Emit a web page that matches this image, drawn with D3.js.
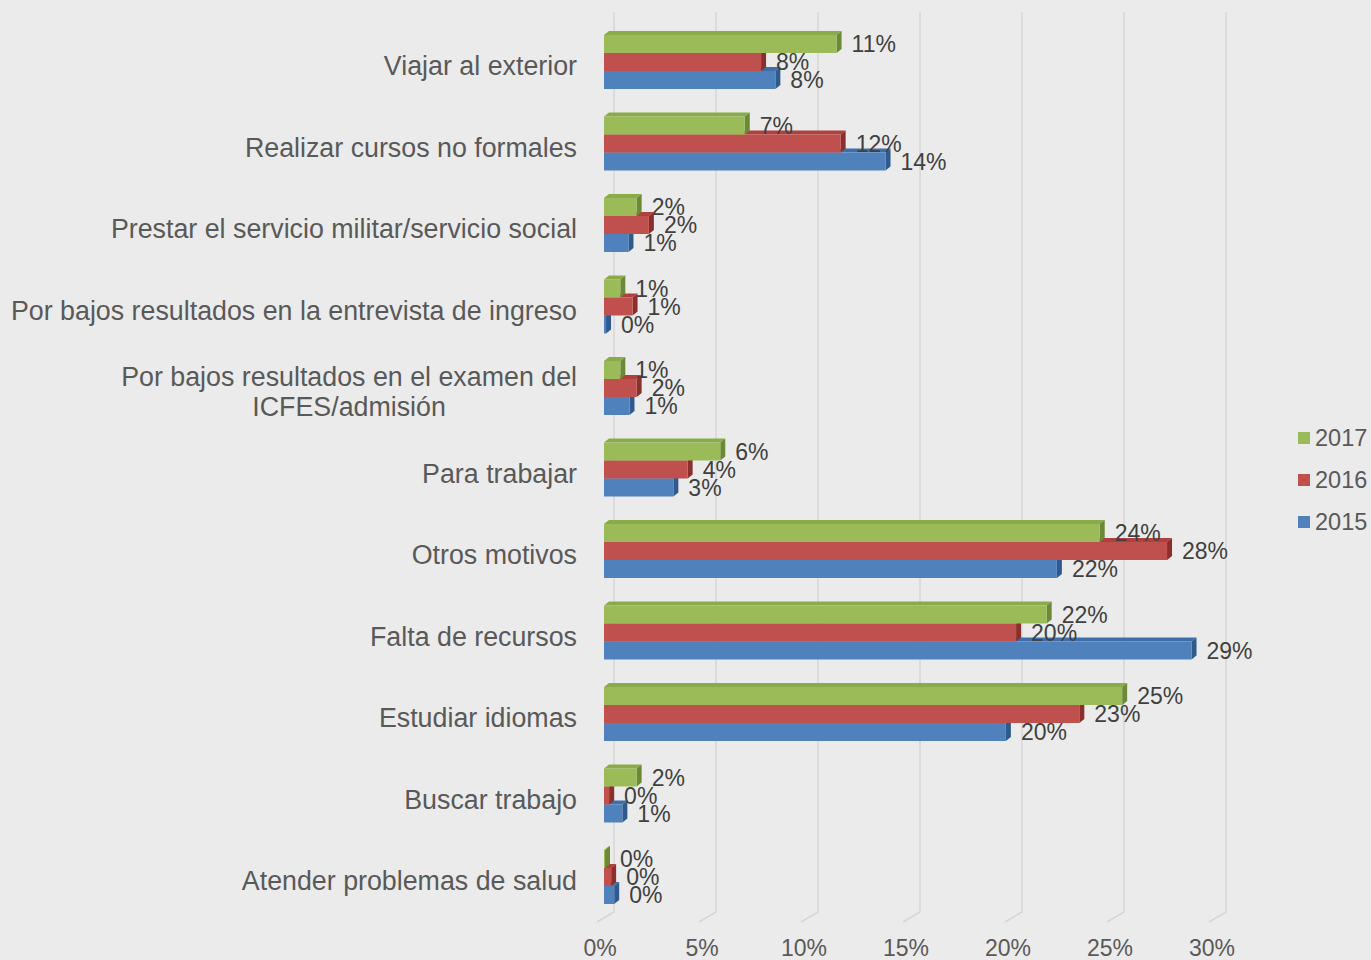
<!DOCTYPE html>
<html>
<head>
<meta charset="utf-8">
<script src="https://cdn.jsdelivr.net/npm/d3@7"></script>
<style>
  html, body { margin: 0; padding: 0; background: #ebebeb; }
  #chart { width: 1371px; height: 960px; }
  text { font-family: "Liberation Sans", Arial, sans-serif; }
</style>
</head>
<body>
<div id="chart"></div>
<script>
// categories, top to bottom
const categories = [
    "Viajar al exterior",
    "Realizar cursos no formales",
    "Prestar el servicio militar/servicio social",
    "Por bajos resultados en la entrevista de ingreso",
    "Por bajos resultados en el examen del|ICFES/admisión",
    "Para trabajar",
    "Otros motivos",
    "Falta de recursos",
    "Estudiar idiomas",
    "Buscar trabajo",
    "Atender problemas de salud"
];

const seriesNames = ["2017", "2016", "2015"];

// values in %
const values2017 = [11.4, 6.9, 1.6, 0.8, 0.8, 5.7, 24.3, 21.7, 25.4, 1.6, 0.05];
const values2016 = [7.7, 11.6, 2.2, 1.4, 1.6, 4.1, 27.6, 20.2, 23.3, 0.25, 0.35];
const values2015 = [8.4, 13.8, 1.2, 0.1, 1.25, 3.4, 22.2, 28.8, 19.7, 0.9, 0.5];

const labels2017 = ["11%", "7%", "2%", "1%", "1%", "6%", "24%", "22%", "25%", "2%", "0%"];
const labels2016 = ["8%", "12%", "2%", "1%", "2%", "4%", "28%", "20%", "23%", "0%", "0%"];
const labels2015 = ["8%", "14%", "1%", "0%", "1%", "3%", "22%", "29%", "20%", "1%", "0%"];

const xTicks = [0, 5, 10, 15, 20, 25, 30];

const width = 1371, height = 960;

const seriesColors = {
    "2017": { front: "#9bbb59", top: "#8aab4a", side: "#6b8a35" },
    "2016": { front: "#c0504d", top: "#b0403d", side: "#8a2f2c" },
    "2015": { front: "#4f81bd", top: "#3f6fab", side: "#2f5a8e" }
};

const seriesData = {
    "2017": { values: values2017, labels: labels2017 },
    "2016": { values: values2016, labels: labels2016 },
    "2015": { values: values2015, labels: labels2015 }
};

// front face scale; back wall sits 10px right
const x = d3.scaleLinear().domain([0, 30]).range([604, 1216]);
const wallDx = 10;
const depthDx = 5, depthDy = 4;

const y = d3.scaleBand().domain(categories).range([25.25, 921.75]);
const ySub = d3.scaleBand().domain(seriesNames).range([0, 54]);

const svg = d3.create("svg")
    .attr("width", width)
    .attr("height", height)
    .attr("viewBox", [0, 0, width, height]);

document.getElementById("chart").appendChild(svg.node());

svg.append("rect").attr("width", width).attr("height", height).attr("fill", "#ebebeb");

// gridlines on back wall and floor
const grid = svg.append("g").attr("stroke", "#d6d6d6").attr("stroke-width", 1.5).attr("fill", "none");
grid.selectAll("path")
    .data(xTicks)
    .join("path")
    .attr("d", d => {
        const xb = x(d) + wallDx;
        return `M${xb},12 L${xb},912 L${xb - 17},922`;
    });

// tick labels
svg.append("g")
    .selectAll("text")
    .data(xTicks)
    .join("text")
    .attr("x", d => x(d) - 4)
    .attr("y", 956)
    .attr("text-anchor", "middle")
    .attr("fill", "#595959")
    .style("font-size", "23px")
    .text(d => d + "%");

// category labels (wrapped ones are centred on the widest line)
svg.append("g")
    .selectAll("text")
    .data(categories)
    .join("text")
    .attr("fill", "#595959")
    .style("font-size", "26.8px")
    .each(function (d) {
        const lines = d.split("|");
        const cy = y(d) + y.bandwidth() / 2;
        const lh = 30;
        const t = d3.select(this);
        const spans = lines.map((line, i) => t.append("tspan")
            .attr("y", cy + (i - (lines.length - 1) / 2) * lh)
            .attr("dy", "0.35em")
            .text(line));
        if (lines.length === 1) {
            t.attr("text-anchor", "end");
            spans[0].attr("x", 577);
        } else {
            const maxW = d3.max(spans, s => s.node().getComputedTextLength());
            t.attr("text-anchor", "middle");
            spans.forEach(s => s.attr("x", 577 - maxW / 2));
        }
    });

// bars: draw bottom series first so upper ones overlap their top faces
const bars = svg.append("g");
["2015", "2016", "2017"].forEach(name => {
    const col = seriesColors[name];
    const sd = seriesData[name];
    categories.forEach((cat, i) => {
        const v = sd.values[i];
        const y0 = y(cat) + y.bandwidth() / 2 - 31 + ySub(name);
        const h = ySub.bandwidth();
        const x0 = x(0), x1 = x(v);
        const g = bars.append("g");
        // top face
        g.append("path")
            .attr("d", `M${x0},${y0} L${x0 + depthDx},${y0 - depthDy} L${x1 + depthDx},${y0 - depthDy} L${x1},${y0} Z`)
            .attr("fill", col.top);
        // side face
        g.append("path")
            .attr("d", `M${x1},${y0} L${x1 + depthDx},${y0 - depthDy} L${x1 + depthDx},${y0 + h - depthDy} L${x1},${y0 + h} Z`)
            .attr("fill", col.side);
        // front face
        g.append("rect")
            .attr("x", x0)
            .attr("y", y0)
            .attr("width", Math.max(0, x1 - x0))
            .attr("height", h)
            .attr("fill", col.front);
    });
});

// data labels
const labelG = svg.append("g");
["2015", "2016", "2017"].forEach(name => {
    const sd = seriesData[name];
    categories.forEach((cat, i) => {
        const yc = y(cat) + y.bandwidth() / 2 - 31 + ySub(name) + ySub.bandwidth() / 2;
        labelG.append("text")
            .attr("x", x(sd.values[i]) + depthDx + 10)
            .attr("y", yc)
            .attr("dy", "0.35em")
            .attr("fill", "#404040")
            .style("font-size", "23px")
            .text(sd.labels[i]);
    });
});

// legend
const legend = svg.append("g")
    .selectAll("g")
    .data(seriesNames)
    .join("g")
    .attr("transform", (d, i) => `translate(1298,${438 + i * 42})`);
legend.append("rect")
    .attr("x", 0).attr("y", -6).attr("width", 12).attr("height", 12)
    .attr("fill", d => seriesColors[d].front);
legend.append("text")
    .attr("x", 17)
    .attr("dy", "0.35em")
    .attr("fill", "#595959")
    .style("font-size", "23.5px")
    .text(d => d);
</script>
</body>
</html>
